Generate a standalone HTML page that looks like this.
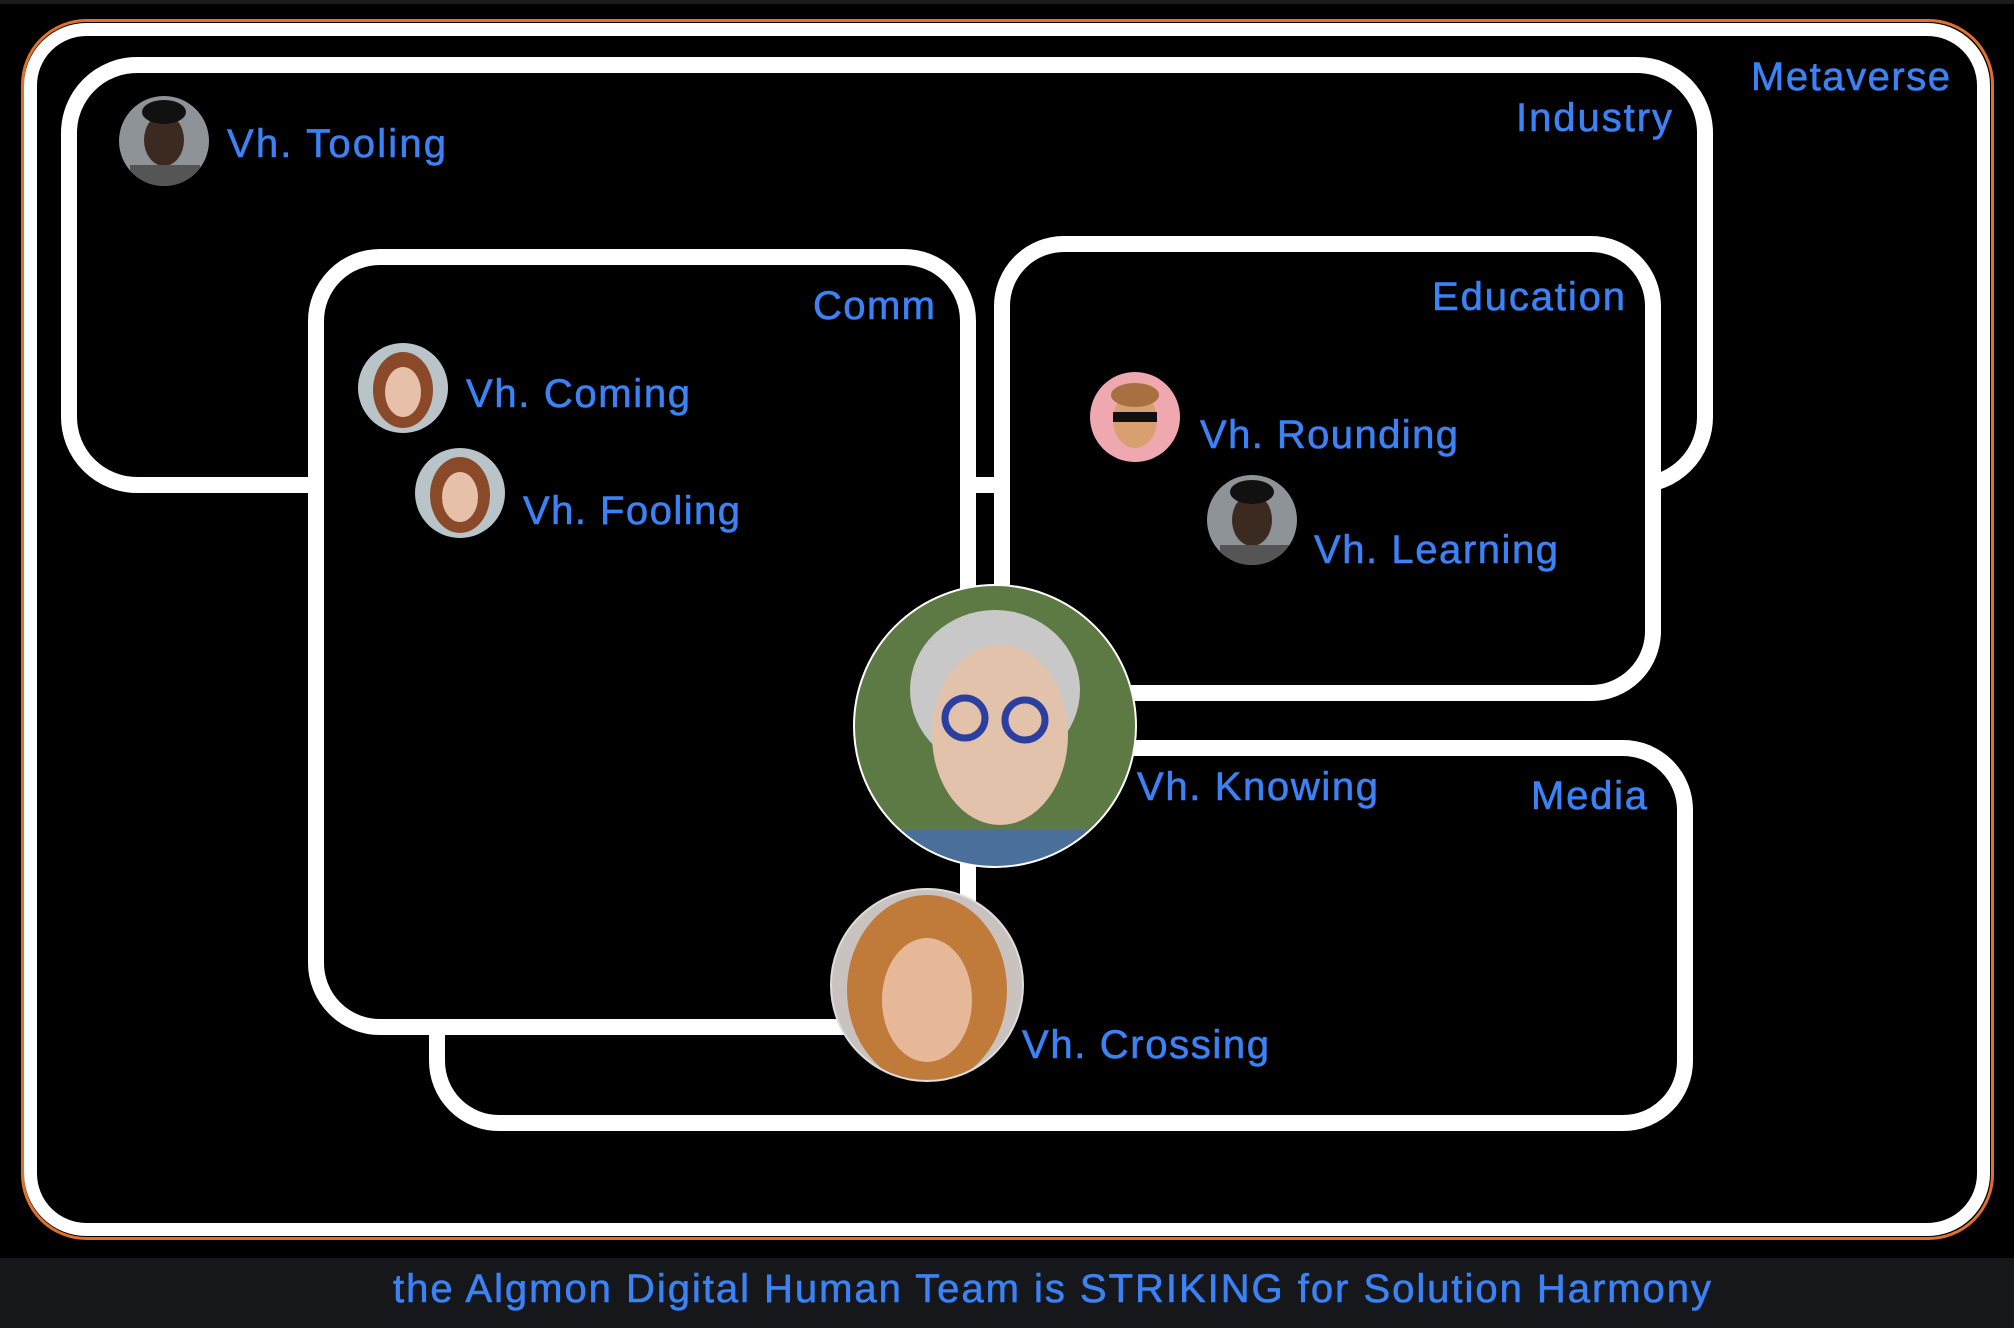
<!DOCTYPE html>
<html><head><meta charset="utf-8"><style>
html,body{margin:0;padding:0;background:#16171a;}
svg{display:block}
text{font-family:"Liberation Sans",sans-serif;fill:#3b82f6;font-size:40px;stroke:#3b82f6;stroke-width:0.6px}
</style></head><body>
<svg width="2014" height="1328" viewBox="0 0 2014 1328">
<defs>
<clipPath id="c1"><circle cx="164" cy="141" r="45"/></clipPath>
<clipPath id="c2"><circle cx="403" cy="388" r="45"/></clipPath>
<clipPath id="c3"><circle cx="460" cy="493" r="45"/></clipPath>
<clipPath id="c4"><circle cx="1135" cy="417" r="45"/></clipPath>
<clipPath id="c5"><circle cx="1252" cy="520" r="45"/></clipPath>
<clipPath id="c6"><circle cx="995" cy="726" r="141"/></clipPath>
<clipPath id="c7"><circle cx="927" cy="985" r="96"/></clipPath>
</defs>
<rect x="0" y="0" width="2014" height="1260" fill="#000"/>
<rect x="0" y="0" width="2014" height="4" fill="#1a1a1a"/>
<rect x="0" y="1258" width="2014" height="70" fill="#16171a"/>
<rect x="22.5" y="20.5" width="1970" height="1218" rx="64" fill="none" stroke="#e2702c" stroke-width="3"/>
<rect x="30.5" y="29.5" width="1953" height="1200" rx="56" fill="#000" stroke="#fff" stroke-width="13"/>
<rect x="69" y="65" width="1636" height="420" rx="68" fill="#000" stroke="#fff" stroke-width="16"/>
<rect x="437" y="748" width="1248" height="375" rx="62" fill="#000" stroke="#fff" stroke-width="16"/>
<rect x="316" y="257" width="652" height="770" rx="64" fill="#000" stroke="#fff" stroke-width="16"/>
<rect x="1002" y="244" width="651" height="449" rx="62" fill="#000" stroke="#fff" stroke-width="16"/>

<g clip-path="url(#c1)">
<rect x="110" y="90" width="110" height="110" fill="#8d9396"/><ellipse cx="164" cy="140" rx="20" ry="26" fill="#3b2a20"/><ellipse cx="164" cy="112" rx="22" ry="12" fill="#111"/><rect x="130" y="165" width="70" height="30" fill="#555"/></g>
<g clip-path="url(#c2)">
<rect x="350" y="340" width="110" height="100" fill="#b9c4c8"/><ellipse cx="403" cy="390" rx="30" ry="38" fill="#8a4a2a"/><ellipse cx="403" cy="392" rx="18" ry="25" fill="#e6c0a8"/></g>
<g clip-path="url(#c3)">
<rect x="410" y="445" width="110" height="100" fill="#b9c4c8"/><ellipse cx="460" cy="495" rx="30" ry="38" fill="#8a4a2a"/><ellipse cx="460" cy="497" rx="18" ry="25" fill="#e6c0a8"/></g>
<g clip-path="url(#c4)">
<rect x="1085" y="370" width="110" height="100" fill="#f0a8b0"/><ellipse cx="1135" cy="420" rx="22" ry="28" fill="#d8a070"/><ellipse cx="1135" cy="395" rx="24" ry="12" fill="#a87040"/><rect x="1113" y="412" width="44" height="10" fill="#111"/></g>
<g clip-path="url(#c5)">
<rect x="1200" y="470" width="110" height="100" fill="#8d9396"/><ellipse cx="1252" cy="520" rx="20" ry="26" fill="#3b2a20"/><ellipse cx="1252" cy="492" rx="22" ry="12" fill="#111"/><rect x="1220" y="545" width="70" height="30" fill="#555"/></g>
<g clip-path="url(#c6)">
<rect x="850" y="580" width="300" height="300" fill="#5d7a45"/><ellipse cx="995" cy="690" rx="85" ry="80" fill="#c8c8c8"/><ellipse cx="1000" cy="735" rx="68" ry="90" fill="#e2c2aa"/><rect x="880" y="830" width="240" height="60" fill="#4a6f9a"/><circle cx="965" cy="718" r="20" fill="none" stroke="#2a3fa0" stroke-width="7"/><circle cx="1025" cy="720" r="20" fill="none" stroke="#2a3fa0" stroke-width="7"/></g>
<g clip-path="url(#c7)">
<rect x="825" y="885" width="210" height="200" fill="#c9c2be"/><ellipse cx="927" cy="990" rx="80" ry="95" fill="#c07a3a"/><ellipse cx="927" cy="1000" rx="45" ry="62" fill="#e6b898"/></g>
<circle cx="995" cy="726" r="141" fill="none" stroke="#fff" stroke-width="2"/>
<circle cx="927" cy="985" r="96" fill="none" stroke="#ddd" stroke-width="2"/>

<text x="227" y="157" textLength="219">Vh. Tooling</text>
<text x="466" y="407" textLength="224">Vh. Coming</text>
<text x="523" y="524" textLength="217">Vh. Fooling</text>
<text x="1200" y="448" textLength="258">Vh. Rounding</text>
<text x="1314" y="563" textLength="244">Vh. Learning</text>
<text x="1137" y="800" textLength="241">Vh. Knowing</text>
<text x="1022" y="1058" textLength="247">Vh. Crossing</text>
<text x="1751" y="90" textLength="199">Metaverse</text>
<text x="1516" y="131" textLength="156">Industry</text>
<text x="813" y="319" textLength="122">Comm</text>
<text x="1432" y="310" textLength="193">Education</text>
<text x="1531" y="809" textLength="116">Media</text>
<text x="393" y="1302" textLength="1318">the Algmon Digital Human Team is STRIKING for Solution Harmony</text>
</svg>
</body></html>
